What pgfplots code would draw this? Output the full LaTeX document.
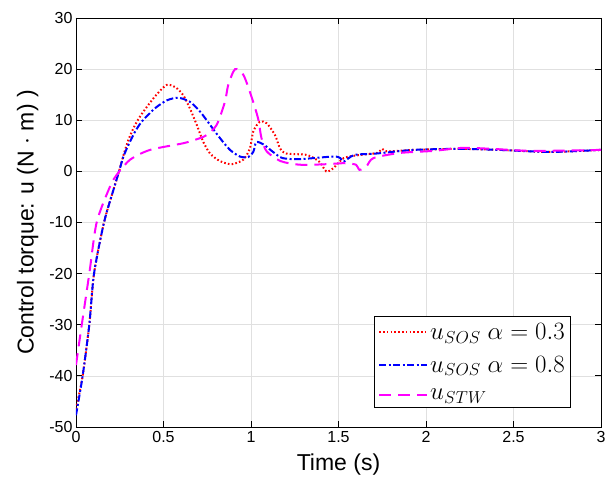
\documentclass[border=0pt]{standalone}
\usepackage{pgfplots}
\pgfplotsset{compat=1.18}
\usepackage{fontspec}
\setmainfont{Liberation Sans}
\definecolor{mred}{RGB}{255,0,0}
\definecolor{mblue}{RGB}{0,0,255}
\definecolor{mmag}{RGB}{255,0,255}
\begin{document}
\begin{tikzpicture}
\begin{axis}[
  name=ax,
  scale only axis, width=525pt, height=409pt,
  xmin=0, xmax=3, ymin=-50, ymax=30,
  xtick={0,0.5,1,1.5,2,2.5,3}, ytick={-50,-40,-30,-20,-10,0,10,20,30},
  xticklabels={0,0.5,1,1.5,2,2.5,3},
  yticklabels={-50,-40,-30,-20,-10,0,10,20,30},
  tick align=inside, tick pos=both, major tick length=6pt,
  grid=major, grid style={black!12, line width=0.7pt},
  axis line style={line width=0.9pt},
  tick style={line width=0.9pt, black},
  tick label style={font=\fontsize{16}{19}\selectfont},
  xticklabel style={yshift=-1pt},
  xlabel={Time (s)}, ylabel={Control torque: u (N $\cdot$ m) )},
  label style={font=\fontsize{23}{27}\selectfont},
  xlabel style={yshift=-4pt},
  ylabel style={yshift=4pt},
  legend style={font=\fontsize{23.5}{27}\selectfont, draw=black, line width=0.7pt, at={(0.943,0.046)}, anchor=south east, inner xsep=4pt, inner ysep=5pt, row sep=11pt},
  legend cell align=left,
  legend image code/.code={\draw[#1] (0pt,0pt) -- (48pt,0pt);},
]
\addplot[mred, line width=2pt, dash pattern=on 1.6pt off 2.2pt, smooth, tension=0.45] coordinates {
(0,-46.5) (0.038,-40) (0.076,-30) (0.103,-20) (0.16,-10) (0.215,-3.5) (0.246,0) (0.27,3.0) (0.30,6.2) (0.335,8.9) (0.375,11.2) (0.45,14.6) (0.518,16.9) (0.57,16.4) (0.613,14.9) (0.651,12.3) (0.69,9.1) (0.727,5.8) (0.766,3.5) (0.823,2.0) (0.89,1.4) (0.956,2.3) (0.994,4.5) (1.013,7.8) (1.05,9.7) (1.09,9.4) (1.137,7.1) (1.166,4.5) (1.20,3.5) (1.32,3.2) (1.39,1.9) (1.43,0.0) (1.47,0.6) (1.53,2.6) (1.62,3.2) (1.72,3.6) (1.75,4.4) (1.78,3.9) (1.93,4.2) (2.19,4.4) (2.42,4.2) (2.71,3.8) (3.0,4.2)
};
\addlegendentry{$u_{SOS}\;\alpha=0.3$}
\addplot[mblue, line width=2pt, dash pattern=on 7pt off 2.5pt on 2pt off 2.5pt, smooth, tension=0.45] coordinates {
(0,-47.7) (0.038,-40) (0.076,-30) (0.103,-20) (0.16,-10) (0.215,-3.5) (0.246,0) (0.27,2.8) (0.30,5.2) (0.335,7.6) (0.375,9.7) (0.45,12.3) (0.52,13.9) (0.585,14.4) (0.651,13.6) (0.709,11.7) (0.766,9.1) (0.823,6.5) (0.88,4.2) (0.937,2.9) (0.984,2.8) (1.013,3.8) (1.03,5.7) (1.07,5.3) (1.126,3.8) (1.18,2.6) (1.28,2.4) (1.47,2.9) (1.51,2.6) (1.53,1.9) (1.59,3.2) (1.72,3.5) (1.93,4.2) (2.19,4.4) (2.42,4.2) (2.71,3.8) (3.0,4.2)
};
\addlegendentry{$u_{SOS}\;\alpha=0.8$}
\addplot[mmag, line width=2pt, dash pattern=on 12pt off 7pt, smooth, tension=0.45] coordinates {
(0,-37.9) (0.033,-30) (0.076,-20) (0.118,-10) (0.194,-3.0) (0.232,-0.7) (0.31,2.3) (0.423,4.2) (0.613,5.5) (0.7,6.4) (0.747,7.1) (0.804,9.1) (0.851,13.6) (0.87,16.9) (0.909,20.0) (0.956,18.9) (1.0,14.9) (1.04,10.4) (1.06,6.5) (1.09,3.9) (1.17,2.0) (1.28,1.3) (1.43,1.4) (1.53,1.6) (1.60,1.3) (1.62,0.3) (1.66,1.0) (1.70,2.6) (1.85,3.6) (2.04,4.0) (2.21,4.6) (2.38,4.4) (2.61,4.0) (3.0,4.2)
};
\addlegendentry{$u_{STW}$}
\end{axis}
\useasboundingbox ([shift={(-76pt,-61pt)}]ax.south west) rectangle ([shift={(10pt,18pt)}]ax.north east);
\end{tikzpicture}
\end{document}
